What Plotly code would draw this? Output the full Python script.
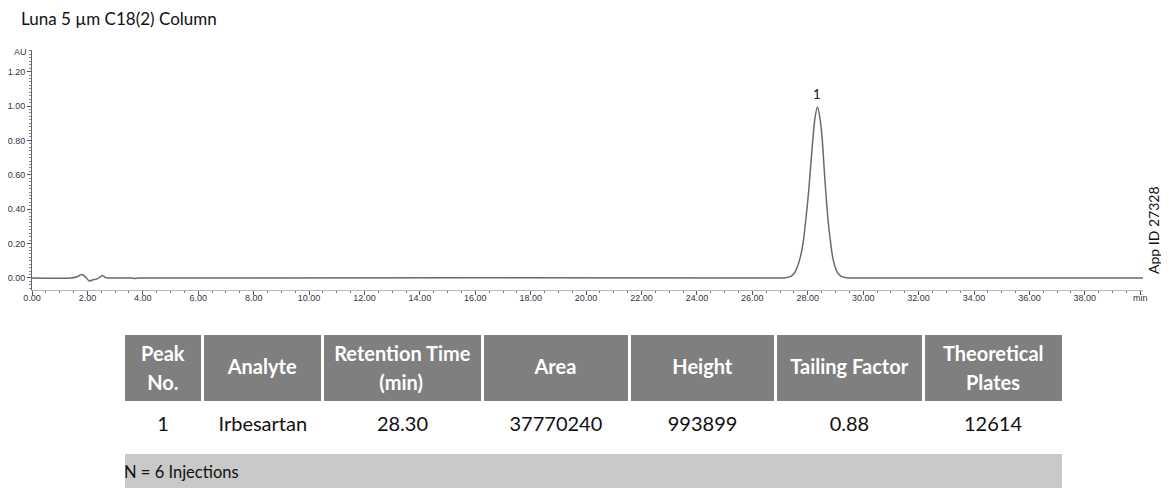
import plotly.graph_objects as go

# ---------------- data ----------------
time_min = [0.00, 1.40, 1.60, 1.80, 1.92, 2.07, 2.20, 2.30, 2.45, 2.55, 2.65, 2.75,
            3.60, 3.72, 3.85, 27.00, 27.20, 27.37, 27.50, 27.61, 27.73, 27.85, 27.95,
            28.03, 28.09, 28.18, 28.26, 28.35, 28.44, 28.52, 28.59, 28.66, 28.73, 28.81,
            28.90, 28.99, 29.10, 29.23, 29.40, 29.60, 40.10]
absorbance_au = [0.000, 0.000, 0.006, 0.020, 0.008, -0.018, -0.010, -0.008, 0.005, 0.015,
                 0.002, 0.000, 0.000, -0.003, 0.000, 0.000, 0.002, 0.008, 0.025, 0.060,
                 0.120, 0.225, 0.370, 0.500, 0.620, 0.800, 0.930, 0.994, 0.930, 0.810,
                 0.640, 0.480, 0.340, 0.225, 0.120, 0.062, 0.025, 0.008, 0.002, 0.000, 0.000]

peak_labels = ["1"]
peak_times = [28.35]
peak_heights = [0.994]

x_tick_vals = [0, 2, 4, 6, 8, 10, 12, 14, 16, 18, 20, 22, 24, 26, 28, 30, 32, 34, 36, 38, 40]
x_tick_text = ["0.00", "2.00", "4.00", "6.00", "8.00", "10.00", "12.00", "14.00", "16.00",
               "18.00", "20.00", "22.00", "24.00", "26.00", "28.00", "30.00", "32.00",
               "34.00", "36.00", "38.00", "min"]
y_tick_vals = [0.0, 0.2, 0.4, 0.6, 0.8, 1.0, 1.2]
y_tick_text = ["0.00", "0.20", "0.40", "0.60", "0.80", "1.00", "1.20"]

table_headers = ["Peak<br>No.", "Analyte", "Retention Time<br>(min)", "Area", "Height",
                 "Tailing Factor", "Theoretical<br>Plates"]
peak_no = ["1"]
analyte = ["Irbesartan"]
retention_time = ["28.30"]
area = ["37770240"]
height = ["993899"]
tailing_factor = ["0.88"]
theoretical_plates = ["12614"]
footer_text = ["N = 6 Injections"]

title_text = "Luna 5 µm C18(2) Column"
app_id_text = "App ID 27328"

# ---------------- layout helpers ----------------
OFF = 8  # default page body margin around the plot div
W, H = 1169 - OFF, 489 - OFF
ML, MR, MT, MB = 30 - OFF, 26, 50 - OFF, 0
PW, PH = W - ML - MR, H - MT - MB


def px_x(px):
    return (px - OFF - ML) / PW


def px_y(py):
    return (H - MB - (py - OFF)) / PH


FONT = "Lato, 'Open Sans', sans-serif"
TICKFONT = dict(family="Arial, 'Liberation Sans', sans-serif", size=9, color="#333344")
TXT = 20          # visible table text size
NBSP_EM = 0.25    # approx. advance of a no-break space in Lato

fig = go.Figure()

fig.add_trace(go.Scatter(
    x=time_min, y=absorbance_au, mode="lines",
    line=dict(color="#6a6a6a", width=1.5, shape="spline", smoothing=0.6),
    hoverinfo="skip", showlegend=False,
))

for lab, t, h in zip(peak_labels, peak_times, peak_heights):
    fig.add_annotation(x=t, y=h, text=lab, showarrow=False, yanchor="bottom", yshift=3,
                       font=dict(family=FONT, size=13, color="#111111"))


def big(s, bold=False, size=TXT):
    s = "<b>" + s + "</b>" if bold else s
    return "<span style='font-size:%spx'>%s</span>" % (size, s)


def pad(px):
    if px <= 0:
        return ""
    n = max(1, round(px / (NBSP_EM * TXT)))
    return "<span style='font-size:%.1fpx'>%s</span>" % (px / (n * NBSP_EM), "&nbsp;" * n)


# horizontal centring pads for the shorter line of two-line headers (px)
second_line_pad = {"Peak<br>No.": 6, "Retention Time<br>(min)": 44, "Theoretical<br>Plates": 22.5}

header_cells, header_sizes = [], []
for h in table_headers:
    if "<br>" in h:
        first, second = h.split("<br>")
        header_cells.append(big(first, True) + "<br>" + pad(second_line_pad[h]) + big(second, True))
        header_sizes.append(22)
    else:
        header_cells.append("&nbsp;<br>" + big(h, bold=True))
        header_sizes.append(14.5)

row_values = [peak_no, analyte, retention_time, area, height, tailing_factor,
              theoretical_plates]
row_cells = [["&nbsp;<br>" + big(v) for v in col] for col in row_values]

col_edges_px = [121.2, 201.3, 321.3, 481.3, 629.0, 775.3, 923.5, 1063.5]
col_widths = [b - a for a, b in zip(col_edges_px[:-1], col_edges_px[1:])]

fig.add_trace(go.Table(
    domain=dict(x=[px_x(col_edges_px[0]), px_x(col_edges_px[-1])], y=[px_y(452), px_y(333)]),
    columnwidth=col_widths,
    header=dict(values=header_cells, fill_color="#7f7f7f", align="center",
                line=dict(color="white", width=3), height=69,
                font=dict(family=FONT, size=header_sizes, color="white")),
    cells=dict(values=row_cells,
               fill_color="white", align="center", line=dict(color="white", width=3),
               height=48, font=dict(family=FONT, size=9, color="#111111")),
))

# footer band (full table width) and its left-flush caption
fig.add_trace(go.Table(
    domain=dict(x=[px_x(col_edges_px[0]), px_x(col_edges_px[-1])], y=[0, px_y(452)]),
    header=dict(values=[""], fill_color="#c9c9c9", line=dict(color="white", width=3),
                height=37),
    cells=dict(values=[[]]),
))
fig.add_trace(go.Table(
    domain=dict(x=[px_x(col_edges_px[0] - 7), px_x(col_edges_px[-1])], y=[0, px_y(452)]),
    header=dict(values=["&nbsp;<br>" + big(t, size=16.5) for t in footer_text],
                fill_color="rgba(0,0,0,0)", align="left",
                line=dict(color="rgba(0,0,0,0)", width=0), height=37,
                font=dict(family=FONT, size=8, color="#111111")),
    cells=dict(values=[[]]),
))

fig.update_layout(
    width=W, height=H,
    margin=dict(l=ML, r=MR, t=MT, b=MB),
    paper_bgcolor="white", plot_bgcolor="white",
    showlegend=False,
    xaxis=dict(range=[0, 40.1], tickvals=x_tick_vals, ticktext=x_tick_text,
               showgrid=False, zeroline=False, showline=True, linecolor="#b8b8b8",
               linewidth=1, ticks="outside", ticklen=4, tickcolor="#555555",
               tickfont=TICKFONT, ticklabelstandoff=-4,
               minor=dict(dtick=0.5, tick0=0, ticks="outside", ticklen=2, tickcolor="#777777"),
               anchor="y", fixedrange=True),
    yaxis=dict(domain=[px_y(289.5), 1], range=[-0.0669, 1.3256], tickvals=y_tick_vals,
               ticktext=y_tick_text, showgrid=False, zeroline=False, showline=True,
               linecolor="#666666", linewidth=1, ticks="outside", ticklen=4,
               tickcolor="#555555", tickfont=TICKFONT,
               minor=dict(dtick=0.02, tick0=0, ticks="outside", ticklen=2, tickcolor="#888888"),
               fixedrange=True),
)

fig.add_annotation(xref="paper", yref="paper", x=px_x(27), y=px_y(52), text="AU",
                   showarrow=False, xanchor="right", yanchor="middle", font=TICKFONT)
fig.add_annotation(xref="paper", yref="paper", x=px_x(17), y=px_y(18), text=title_text,
                   showarrow=False, xanchor="left", yanchor="middle",
                   font=dict(family=FONT, size=17, color="#111111"))
fig.add_annotation(xref="paper", yref="paper", x=px_x(1153), y=px_y(230), text=app_id_text,
                   textangle=-90, showarrow=False, xanchor="center", yanchor="middle",
                   font=dict(family=FONT, size=14, color="#111111"))

fig.write_html("out.html")
